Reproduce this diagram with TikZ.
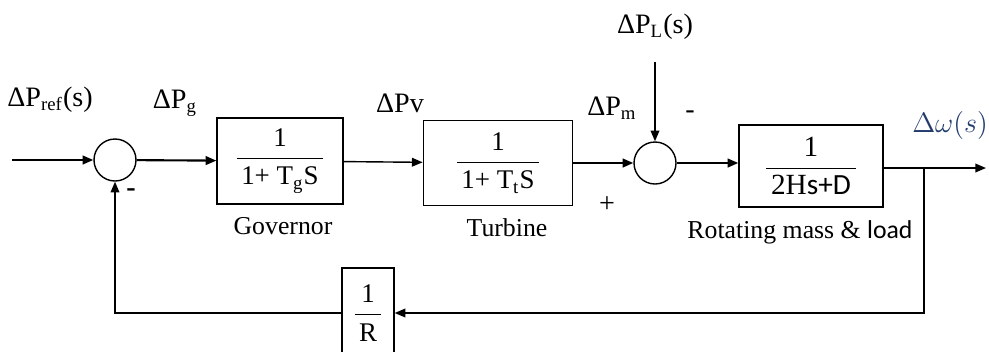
\documentclass[tikz,border=0pt]{standalone}
\usepackage{fontspec}
\setmainfont{Liberation Serif}
\newfontfamily\calib{Carlito}
\usepackage{xcolor}
\definecolor{omblue}{RGB}{35,60,110}
\usetikzlibrary{arrows.meta,positioning}
\newcommand{\blkfrac}[2]{$\displaystyle\frac{\mbox{#1}}{\mbox{\,#2\,}}$}

\begin{document}
\begin{tikzpicture}[x=0.15mm,y=-0.15mm,
  blk/.style={draw,line width=0.6pt,inner sep=0pt,align=center,font=\fontsize{11.5}{13}\selectfont},
  sumc/.style={draw,circle,line width=0.6pt,minimum size=6.3mm,inner sep=0pt},
  lbl/.style={font=\fontsize{12}{14}\selectfont,inner sep=1pt},
  blkname/.style={font=\fontsize{11}{13}\selectfont,inner sep=1pt},
  sig/.style={line width=0.6pt,-{Triangle[length=1.6mm,width=1.3mm]}},
  sigb/.style={line width=0.9pt,-{Triangle[length=1.6mm,width=1.3mm]}}
]
  \useasboundingbox (0,0) rectangle (989,351);

  % blocks
  \node[sumc] (sum1) at (115,160) {};
  \node[blk,minimum width=18.9mm,minimum height=12.9mm] (gov) at (280,161) {\blkfrac{1}{1+ T\textsubscript{g}S}};
  \node[blk,minimum width=22.4mm,minimum height=12.8mm] (turb) at (498,163) {\blkfrac{1}{1+ T\textsubscript{t}S}};
  \node[sumc] (sum2) at (655,163) {};
  \node[blk,minimum width=21.6mm,minimum height=12.3mm,font=\fontsize{12.5}{14}\selectfont] (mass) at (811,166) {\blkfrac{1}{2H{\calib s+D}}};
  \node[blk,minimum width=7.8mm,minimum height=13.5mm] (fb) at (368,313) {\blkfrac{1}{R}};

  % free ends
  \coordinate (in) at (12,160);
  \coordinate (pl) at (655,62);
  \coordinate (out) at (986,168);
  \coordinate (br) at (924,168);

  % forward path
  \draw[sigb] (in) -- (sum1);
  \draw[sigb] (sum1) -- (gov);
  \draw[sig] (gov) -- (turb);
  \draw[sigb] (turb.east |- sum2) -- (sum2);
  \draw[sig] (pl) -- (sum2);
  \draw[sigb] (sum2) -- (mass.west |- sum2);
  \draw[sig] (mass.east |- out) -- (out);

  % feedback
  \draw[sig] (br) |- (fb.east);
  \draw[sig] (fb.west) -| (sum1.south);

  % labels
  \node[lbl] (lref) at (50,100) {ΔP\textsubscript{ref}(s)};
  \node[lbl] (lg) at (175,103) {ΔP\textsubscript{g}};
  \node[lbl] (lv) at (400,103) {ΔPv};
  \node[lbl] (lL) at (655,27) {ΔP\textsubscript{L}(s)};
  \node[lbl] (lm) at (612,108) {ΔP\textsubscript{m}};
  \node[lbl] (m2) at (690,115) {-};
  \node[lbl] (p2) at (607,205) {+};
  \node[lbl] (m1) at (131,193) {\bfseries -};
  \node[lbl,text=omblue] (lw) at (950,125) {$\Delta\omega(s)$};

  \node[blkname] (cgov) at (283,226) {Governor};
  \node[blkname] (cturb) at (507,228) {Turbine};
  \node[blkname] (cmass) at (800,232) {Rotating mass \& {\calib load}};
\end{tikzpicture}
\end{document}
